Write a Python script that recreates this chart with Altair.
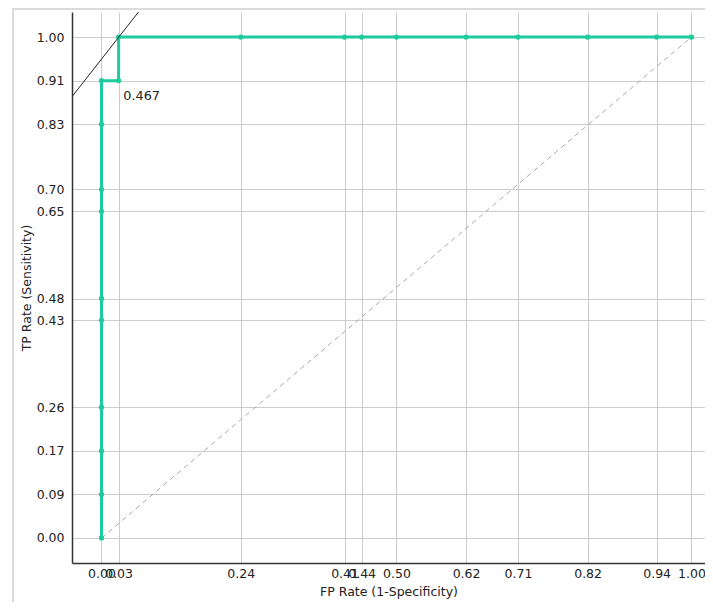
import altair as alt
import pandas as pd

# ROC curve points
fpr = [0, 0, 0, 0, 0, 0, 0, 0, 0, 0, 0.029, 0.029, 0.236, 0.412, 0.441, 0.5, 0.618, 0.706, 0.824, 0.941, 1.0]
tpr = [0, 0.087, 0.174, 0.261, 0.435, 0.478, 0.652, 0.696, 0.826, 0.913, 0.913, 1, 1, 1, 1, 1, 1, 1, 1, 1, 1]

# axis tick values
x_ticks = [0, 0.029, 0.236, 0.412, 0.441, 0.5, 0.618, 0.706, 0.824, 0.941, 1.0]
y_ticks = [0, 0.087, 0.174, 0.261, 0.435, 0.478, 0.652, 0.696, 0.826, 0.913, 1.0]

# chance diagonal
diag_x = [0, 1]
diag_y = [0, 1]

# iso-performance line through the optimal point
iso_x = [-0.05, 0.0627]
iso_y = [0.881, 1.05]

# annotation
ann_x = [0.037]
ann_y = [0.883]
ann_text = ["0.467"]

GREEN = "#1ecb9c"
FONT = "DejaVu Sans"

roc = pd.DataFrame({"fpr": fpr, "tpr": tpr, "order": list(range(len(fpr)))})
diag = pd.DataFrame({"fpr": diag_x, "tpr": diag_y})
iso = pd.DataFrame({"fpr": iso_x, "tpr": iso_y})
ann = pd.DataFrame({"fpr": ann_x, "tpr": ann_y, "text": ann_text})

xscale = alt.Scale(domain=[-0.05, 1.023], nice=False, zero=False)
yscale = alt.Scale(domain=[-0.05, 1.05], nice=False, zero=False)

xaxis = alt.Axis(values=x_ticks, format=".2f", title="FP Rate (1-Specificity)",
                 labelOverlap=False, labelFlush=False, labelBound=False,
                 ticks=False, labelPadding=4, titlePadding=6, grid=True)
yaxis = alt.Axis(values=y_ticks, format=".2f", title="TP Rate (Sensitivity)",
                 labelOverlap=False, labelFlush=False, labelBound=False,
                 ticks=False, labelPadding=8, titlePadding=3, grid=True)

base_x = alt.X("fpr:Q", scale=xscale, axis=xaxis)
base_y = alt.Y("tpr:Q", scale=yscale, axis=yaxis)

frame = alt.Chart(alt.Data(values=[{"a": 1}])).mark_rect(
    fill=None, stroke="#cfcfcf", strokeWidth=1.5, clip=False
).encode(x=alt.value(-59), x2=alt.value(700), y=alt.value(-3), y2=alt.value(700))

diag_line = alt.Chart(diag).mark_line(
    color="#a8a8a8", strokeDash=[5, 4], strokeWidth=1
).encode(x=base_x, y=base_y)

iso_line = alt.Chart(iso).mark_line(color="#222222", strokeWidth=1, clip=True).encode(
    x=alt.X("fpr:Q", scale=xscale), y=alt.Y("tpr:Q", scale=yscale)
)

roc_line = alt.Chart(roc).mark_line(color=GREEN, strokeWidth=3).encode(
    x=alt.X("fpr:Q", scale=xscale), y=alt.Y("tpr:Q", scale=yscale), order="order:Q"
)

roc_pts = alt.Chart(roc).mark_circle(color=GREEN, size=28, opacity=1).encode(
    x=alt.X("fpr:Q", scale=xscale), y=alt.Y("tpr:Q", scale=yscale)
)

label = alt.Chart(ann).mark_text(
    align="left", baseline="middle", font=FONT, fontSize=12.8, color="#222222"
).encode(x=alt.X("fpr:Q", scale=xscale), y=alt.Y("tpr:Q", scale=yscale), text="text:N")

chart = alt.layer(diag_line, roc_line, roc_pts, iso_line, label, frame).properties(
    width=633,
    height=551,
    autosize=alt.AutoSizeParams(type="none"),
    padding={"left": 64, "top": 4, "right": 0, "bottom": 39},
).configure_view(stroke=None).configure_axis(
    domainColor="#333333",
    domainWidth=1.5,
    gridColor="#cccccc",
    gridWidth=1,
    labelFont=FONT,
    labelFontSize=12.5,
    labelColor="#222222",
    titleFont=FONT,
    titleFontSize=12.5,
    titleFontWeight="normal",
    titleColor="#222222",
)

chart.save("out.html", embed_options={"renderer": "svg", "actions": False})
